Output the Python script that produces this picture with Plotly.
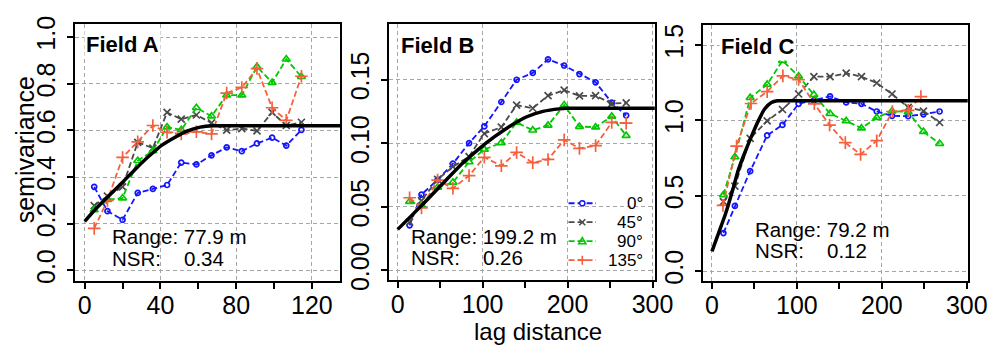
import plotly.graph_objects as go

W, H = 1000, 348
FONT = "Liberation Sans, Arial, sans-serif"
TICKFONT = "Liberation Sans Narrow, Arial Narrow, Liberation Sans, sans-serif"

# ---------------- data ----------------
directions = ["0°", "45°", "90°", "135°"]
colors = ["#1414ff", "#4a4a4a", "#00c800", "#f5603c"]
symbols = ["circle-open", "x-thin-open", "triangle-up-open", "cross-thin-open"]
msizes = [5, 7, 7, 9]

# Field A
lag_a = [5, 12, 20, 28, 36, 43.5, 51, 59, 67, 75, 83, 91, 99, 106.5, 114.5]
a_0 = [0.358, 0.254, 0.217, 0.332, 0.349, 0.366, 0.462, 0.454, 0.493, 0.527, 0.511, 0.544, 0.569, 0.535, 0.602]
a_45 = [0.278, 0.318, 0.358, 0.549, 0.524, 0.677, 0.648, 0.666, 0.632, 0.601, 0.608, 0.598, 0.677, 0.621, 0.635]
a_90 = [0.259, 0.303, 0.310, 0.470, 0.512, 0.614, 0.602, 0.697, 0.661, 0.751, 0.751, 0.873, 0.805, 0.905, 0.830]
a_135 = [0.180, 0.300, 0.484, 0.551, 0.621, 0.592, 0.585, 0.594, 0.585, 0.760, 0.784, 0.865, 0.697, 0.643, 0.832]
fit_a_x = [0, 6, 13, 20, 27, 34, 41, 48, 54, 61, 68, 75, 135]
fit_a_y = [0.210, 0.265, 0.322, 0.378, 0.436, 0.490, 0.538, 0.572, 0.597, 0.614, 0.620, 0.620, 0.620]

# Field B
lag_b = [14, 28, 47, 65, 84, 102, 122, 140, 159, 177, 196, 214, 233, 252, 269]
b_0 = [0.0355, 0.0597, 0.0713, 0.0840, 0.1002, 0.1134, 0.1325, 0.1500, 0.1554, 0.1661, 0.1612, 0.1545, 0.1480, 0.1321, 0.1219]
b_45 = [0.0381, 0.0550, 0.0716, 0.0816, 0.0896, 0.1077, 0.1127, 0.1301, 0.1276, 0.1375, 0.1418, 0.1373, 0.1375, 0.1313, 0.1318]
b_90 = [0.0542, 0.0512, 0.0654, 0.0693, 0.0853, 0.0952, 0.1004, 0.1164, 0.1103, 0.1141, 0.1301, 0.1132, 0.1127, 0.1212, 0.1060]
b_135 = [0.0572, 0.0492, 0.0711, 0.0646, 0.0746, 0.0890, 0.0823, 0.0928, 0.0848, 0.0873, 0.1027, 0.0960, 0.0982, 0.1164, 0.1159]
fit_b_x = [0, 18, 37, 56, 76, 95, 114, 133, 152, 171, 190, 199, 303]
fit_b_y = [0.0323, 0.0443, 0.0572, 0.0704, 0.0841, 0.0953, 0.1052, 0.1139, 0.1209, 0.1251, 0.1271, 0.1275, 0.1275]

# Field C
lag_c = [13.5, 27, 45, 65, 83, 102, 120, 139, 158, 176, 194, 212, 231, 249, 268]
lag_c_135 = [13, 29, 46, 65, 83.5, 102, 120.5, 138.5, 157, 175, 194, 212.5, 231, 246]
c_0 = [0.252, 0.432, 0.663, 0.900, 0.970, 1.110, 1.133, 1.159, 1.119, 1.110, 1.059, 1.030, 1.028, 1.040, 1.059]
c_45 = [0.460, 0.563, 0.881, 0.996, 1.072, 1.175, 1.290, 1.290, 1.313, 1.290, 1.248, 1.175, 1.086, 1.062, 0.986]
c_90 = [0.505, 0.757, 1.150, 1.238, 1.397, 1.293, 1.170, 1.045, 0.996, 0.948, 1.018, 1.062, 1.056, 0.925, 0.846]
c_135 = [0.436, 0.829, 1.112, 1.191, 1.295, 1.271, 1.110, 0.969, 0.852, 0.774, 0.865, 1.059, 1.066, 1.158]
fit_c_x = [0, 8, 16, 24, 31, 39, 47, 54, 62, 70, 77, 85, 302]
fit_c_y = [0.130, 0.255, 0.380, 0.530, 0.670, 0.790, 0.900, 0.990, 1.075, 1.118, 1.130, 1.130, 1.130]

fields = ["Field A", "Field B", "Field C"]
ranges_txt = ["Range: 77.9 m", "Range: 199.2 m", "Range: 79.2 m"]
nsr_txt = ["0.34", "0.26", "0.12"]

x_ticks = [[0, 40, 80, 120], [0, 100, 200, 300], [0, 100, 200, 300]]
x_minor = [[20, 60, 100], [50, 150, 250], [50, 150, 250]]
y_ticks = [[0, 0.2, 0.4, 0.6, 0.8, 1.0], [0, 0.05, 0.10, 0.15], [0, 0.5, 1.0, 1.5]]
y_ticktext = [["0.0", "0.2", "0.4", "0.6", "0.8", "1.0"],
              ["0.00", "0.05", "0.10", "0.15"],
              ["0.0", "0.5", "1.0", "1.5"]]

panels = [
    ([lag_a, lag_a, lag_a, lag_a], [a_0, a_45, a_90, a_135], fit_a_x, fit_a_y),
    ([lag_b, lag_b, lag_b, lag_b], [b_0, b_45, b_90, b_135], fit_b_x, fit_b_y),
    ([lag_c, lag_c, lag_c, lag_c_135], [c_0, c_45, c_90, c_135], fit_c_x, fit_c_y),
]

# ---------------- layout geometry (pixels) ----------------
boxes = [  # left, right, top, bottom
    (68.3, 339.0, 9.3, 280.0),
    (388.3, 660.0, 9.3, 279.3),
    (709.3, 979.3, 10.7, 280.0),
]
x_ranges = [[-5.18, 135.0], [-10.8, 302.7], [-10.4, 301.1]]
y_ranges = [[-0.0434, 1.0568], [-0.0074, 0.1940], [-0.063, 1.632]]


def px(x):
    return x / W


def py(y):
    return 1 - y / H


fig = go.Figure()

for i, (lags, series, fx, fy) in enumerate(panels):
    xa = "x" if i == 0 else f"x{i+1}"
    ya = "y" if i == 0 else f"y{i+1}"
    for k in range(4):
        fig.add_trace(go.Scatter(
            x=lags[k], y=series[k], xaxis=xa, yaxis=ya, mode="lines+markers",
            name=directions[k], showlegend=False,
            line=dict(color=colors[k], width=1.8, dash="6px,3px"),
            marker=dict(symbol=symbols[k], size=msizes[k], color=colors[k],
                        line=dict(color=colors[k], width=1.7)),
        ))
    fig.add_trace(go.Scatter(
        x=fx, y=fy, xaxis=xa, yaxis=ya, mode="lines", showlegend=False,
        line=dict(color="black", width=3.5, shape="spline", smoothing=0.6),
    ))

layout = dict(
    width=W, height=H, margin=dict(l=0, r=0, t=0, b=0),
    paper_bgcolor="white", plot_bgcolor="white",
    font=dict(family=FONT, color="black", size=22),
    showlegend=False,
)

for i in range(3):
    l, r, t, b = boxes[i]
    xk = "xaxis" if i == 0 else f"xaxis{i+1}"
    yk = "yaxis" if i == 0 else f"yaxis{i+1}"
    ya = "y" if i == 0 else f"y{i+1}"
    xa = "x" if i == 0 else f"x{i+1}"
    layout[xk] = dict(
        domain=[px(l), px(r)], anchor=ya, range=x_ranges[i],
        tickmode="array", tickvals=x_ticks[i], ticktext=[str(v) for v in x_ticks[i]],
        ticks="outside", ticklen=6, tickwidth=1.5, tickcolor="black",
        showline=True, mirror=True, linecolor="black", linewidth=2,
        showgrid=True, gridcolor="#a6a6a6", gridwidth=1, griddash="4px,3px",
        zeroline=False, tickfont=dict(size=25, family=TICKFONT),
        ticklabelstandoff=-5,
        minor=dict(tickmode="array", tickvals=x_minor[i], ticks="outside", ticklen=6,
                   tickwidth=1.5, tickcolor="black", showgrid=False),
    )
    layout[yk] = dict(
        domain=[py(b), py(t)], anchor=xa, range=y_ranges[i],
        tickmode="array", tickvals=y_ticks[i], ticktext=y_ticktext[i],
        ticks="outside", ticklen=6, tickwidth=1.5, tickcolor="black",
        showline=True, mirror=True, linecolor="black", linewidth=2,
        showgrid=True, gridcolor="#a6a6a6", gridwidth=1, griddash="4px,3px",
        zeroline=False, tickangle=-90, tickfont=dict(size=25, family=TICKFONT),
        ticklabelstandoff=2,
    )

fig.update_layout(**layout)

annotations = []
shapes = []

# Field labels
field_pos = [(78, 31), (399, 31.7), (725, 33.3)]
for i in range(3):
    x0, y0 = field_pos[i]
    annotations.append(dict(
        x=px(x0), y=py(y0), xref="paper", yref="paper", xanchor="left", yanchor="middle",
        text=f"<b>{fields[i]}</b>", showarrow=False, font=dict(size=22, family=FONT),
        bgcolor="white", borderpad=1,
    ))

# Range / NSR boxes
txt_pos = [(104.5, 233.3, 256.7), (409.5, 233.3, 256.0), (760.0, 226.7, 248.3)]
box_px = [(101, 252, 220, 267), (406, 568, 220, 267), (757, 906, 213, 261)]
for i in range(3):
    bx0, bx1, by0, by1 = box_px[i]
    shapes.append(dict(type="rect", xref="paper", yref="paper", layer="between",
                       x0=px(bx0), x1=px(bx1), y0=py(by1), y1=py(by0),
                       fillcolor="white", line=dict(width=0)))
    lx, r1, r2 = txt_pos[i]
    annotations.append(dict(x=px(lx), y=py(r1), xref="paper", yref="paper", xanchor="left",
                            yanchor="middle", text=ranges_txt[i], showarrow=False,
                            font=dict(size=20.5, family=FONT)))
    annotations.append(dict(x=px(lx), y=py(r2), xref="paper", yref="paper", xanchor="left",
                            yanchor="middle", text="NSR:", showarrow=False,
                            font=dict(size=20.5, family=FONT)))
    annotations.append(dict(x=px(lx + 73.4), y=py(r2), xref="paper", yref="paper", xanchor="left",
                            yanchor="middle", text=nsr_txt[i], showarrow=False,
                            font=dict(size=20.5, family=FONT)))

# Legend (panel B), drawn manually
shapes.append(dict(type="rect", xref="paper", yref="paper", layer="between",
                   x0=px(567), x1=px(658.5), y0=py(267), y1=py(187),
                   fillcolor="white", line=dict(width=0)))
leg_rows = [198.5, 218.5, 238.5, 258.5]
marker_paths = [
    None,
    "M-3,-3 L3,3 M-3,3 L3,-3",
    "M-3.6,-2.6 L3.6,-2.6 L0,3.6 Z",
    "M-4.5,0 L4.5,0 M0,-4.5 L0,4.5",
]
for k in range(4):
    yy = leg_rows[k]
    shapes.append(dict(type="line", xref="paper", yref="paper", x0=px(572), x1=px(600),
                       y0=py(yy), y1=py(yy), line=dict(color=colors[k], width=1.8, dash="6px,3px")))
    if k == 0:
        shapes.append(dict(type="circle", xref="paper", yref="paper", xsizemode="pixel",
                           ysizemode="pixel", xanchor=px(586), yanchor=py(yy),
                           x0=-2.6, x1=2.6, y0=-2.6, y1=2.6, fillcolor="white",
                           line=dict(color=colors[k], width=1.5)))
    else:
        shapes.append(dict(type="path", xref="paper", yref="paper", xsizemode="pixel",
                           ysizemode="pixel", xanchor=px(586), yanchor=py(yy),
                           path=marker_paths[k], fillcolor="rgba(0,0,0,0)",
                           line=dict(color=colors[k], width=1.6)))
    annotations.append(dict(x=px(649), y=py(yy), xref="paper", yref="paper", xanchor="right",
                            yanchor="middle", text=directions[k], showarrow=False,
                            borderpad=0, font=dict(size=17, family=FONT)))

# axis titles
annotations.append(dict(x=px(17), y=py(142), xref="paper", yref="paper", xanchor="center",
                        yanchor="middle", text="semivariance", textangle=-90, showarrow=False,
                        font=dict(size=25, family=FONT)))
annotations.append(dict(x=px(540.7), y=py(334), xref="paper", yref="paper", xanchor="center",
                        yanchor="middle", text="lag distance", showarrow=False,
                        font=dict(size=24, family=FONT)))

fig.update_layout(annotations=annotations, shapes=shapes)
fig.write_html("out.html")
